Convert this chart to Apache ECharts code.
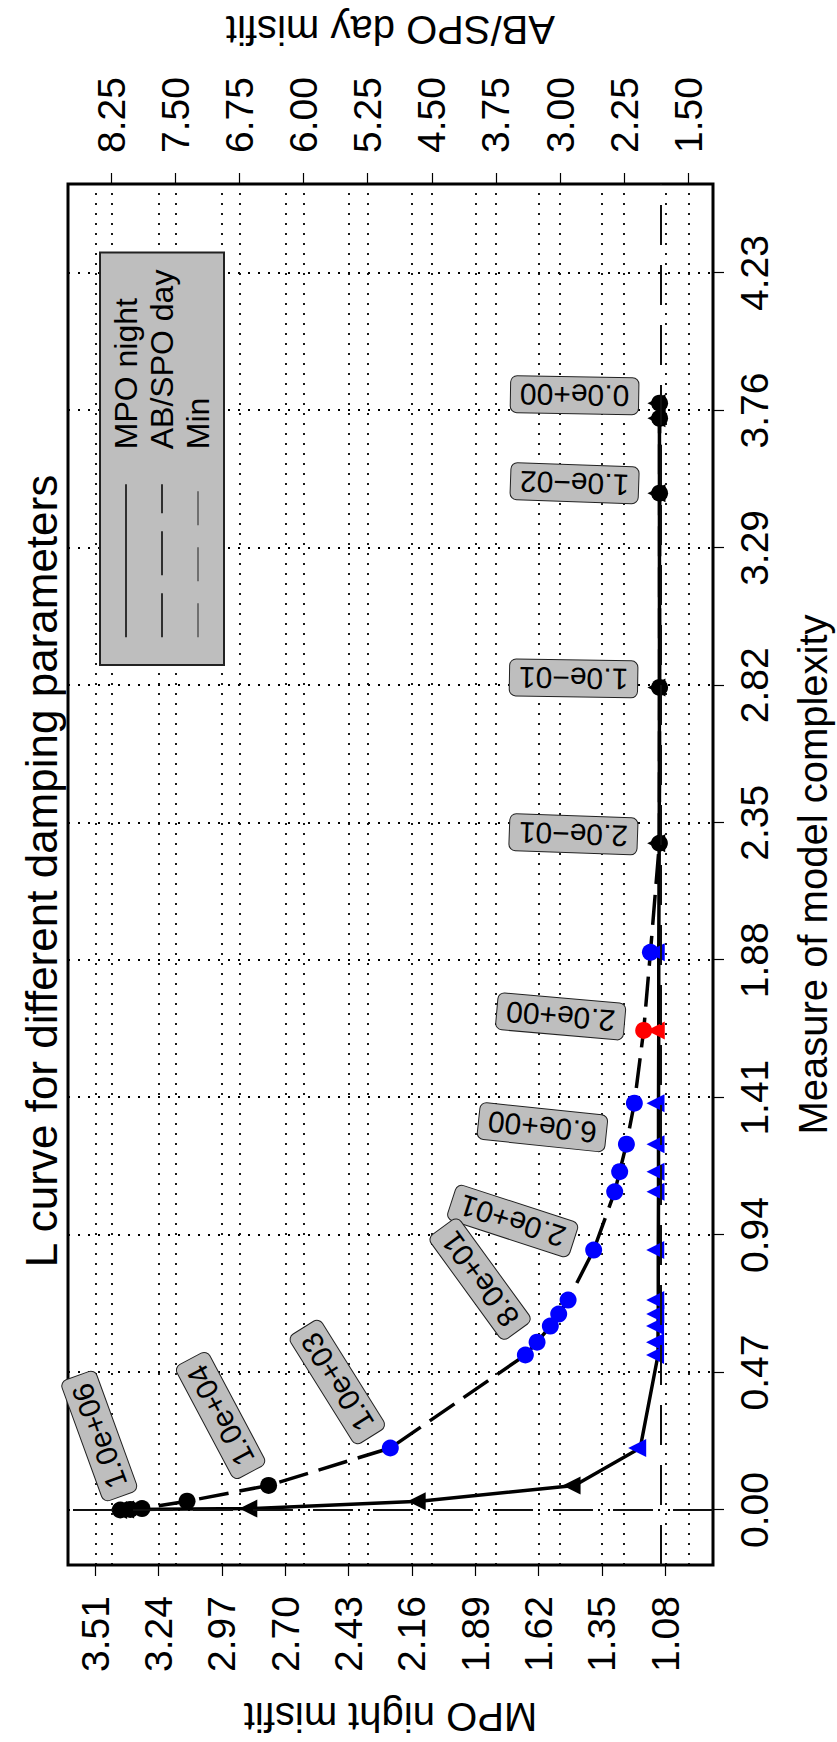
<!DOCTYPE html>
<html><head><meta charset="utf-8">
<script src="https://cdn.jsdelivr.net/npm/echarts@6/dist/echarts.min.js"></script>
<style>
html,body{margin:0;padding:0;background:#fff;overflow:hidden;width:837px;height:1742px;}
#wrap{position:absolute;left:0;top:0;width:1742px;height:837px;transform-origin:0 0;transform:translate(0,1742px) rotate(-90deg);}
#chart{width:1742px;height:837px;background:#fff;}
</style></head><body>
<div id="wrap"><div id="chart"></div></div>
<script>
// ---- data ----
const complexity = [3.785, 3.733, 3.477, 2.813, 2.280, 1.907, 1.640, 1.391, 1.251, 1.157, 1.088, 0.889, 0.718, 0.670, 0.629, 0.574, 0.530, 0.212, 0.084, 0.030, 0.005, 0.002, 0.000];
const mpoNight   = [1.105, 1.105, 1.105, 1.105, 1.106, 1.108, 1.108, 1.109, 1.109, 1.109, 1.109, 1.110, 1.110, 1.110, 1.111, 1.111, 1.111, 1.187, 1.467, 2.127, 2.845, 3.370, 3.400];
const abSpoDay   = [1.836, 1.836, 1.836, 1.836, 1.838, 1.943, 2.022, 2.131, 2.224, 2.303, 2.361, 2.607, 2.906, 3.016, 3.114, 3.269, 3.406, 4.986, 6.410, 7.364, 7.891, 8.028, 8.145];
const pointGroup = ['k','k','k','k','k','b','r','b','b','b','b','b','b','b','b','b','b','b','k','k','k','k','k'];
const dampingLabels = ['0.0e+00','','1.0e\u221202','1.0e\u221201','2.0e\u221201','','2.0e+00','','6.0e+00','','','2.0e+01','','','','8.0e+01','','1.0e+03','1.0e+04','','','','1.0e+06'];
const xTicks = [0.00, 0.47, 0.94, 1.41, 1.88, 2.35, 2.82, 3.29, 3.76, 4.23];
const mpoTicks = [1.08, 1.35, 1.62, 1.89, 2.16, 2.43, 2.70, 2.97, 3.24, 3.51];
const abTicks = [1.50, 2.25, 3.00, 3.75, 4.50, 5.25, 6.00, 6.75, 7.50, 8.25];
const minMisfit = 1.104;
const minComplexity = 0.0;

// ---- styling / placement ----
const FONT = '"Liberation Sans", Arial, Helvetica, sans-serif';
const groupColor = {k:'#000000', b:'#0000ff', r:'#ff0000'};
const CIRCLE = 17, TRI = 18;
// label centre offset from point (px, chart frame) and rotation (deg)
const labelPlacement = {
  '0.0e+00':[8,-85,89], '1.0e\u221202':[10,-85,88], '1.0e\u221201':[9,-86,89], '2.0e\u221201':[9,-86,88],
  '2.0e+00':[14,-83,85], '6.0e+00':[17,-84,84], '2.0e+01':[29,-81,72], '8.0e+01':[63,-57,36],
  '1.0e+03':[66,-53,32], '1.0e+04':[70,-48,28], '1.0e+06':[74,-21,20]
};

const mpoData = complexity.map((x,i)=>({value:[x, mpoNight[i]], itemStyle:{color:groupColor[pointGroup[i]]}}));
const abData = complexity.map((x,i)=>{
  const d = {value:[x, abSpoDay[i]], itemStyle:{color:groupColor[pointGroup[i]]}};
  const t = dampingLabels[i];
  if (t) {
    const p = labelPlacement[t];
    d.label = {show:true, formatter:t, position:[CIRCLE/2 + p[0], CIRCLE/2 + p[1]], rotate:p[2]};
  }
  return d;
});

const axisCommon = {
  type:'value',
  axisLine:{show:false, onZero:false},
  axisTick:{show:true, length:11, inside:false, lineStyle:{color:'#000', width:1.2}},
  splitLine:{show:true, lineStyle:{color:'#000', width:1.8, type:[2,8]}},
  nameLocation:'middle',
  nameMoveOverlap:false,
  nameTextStyle:{fontSize:40, color:'#000', fontFamily:FONT},
};
const fmt = v => Number(v).toFixed(2);

const chart = echarts.init(document.getElementById('chart'), null, {renderer:'svg', width:1742, height:837});
chart.setOption({
  animation:false,
  backgroundColor:'#fff',
  title:{text:'L curve for different damping parameters', left:'center', top:14,
    textStyle:{fontSize:44, fontWeight:'normal', color:'#000', fontFamily:FONT}},
  grid:{left:177, right:184, top:68, bottom:124, show:true, borderColor:'#000', borderWidth:3, backgroundColor:'transparent', outerBoundsMode:'none', containLabel:false},
  legend:{orient:'vertical', left:1077, top:100, backgroundColor:'#bebebe', borderColor:'#222', borderWidth:2,
    padding:[10,17,10,27], itemWidth:153, itemHeight:20, itemGap:4, selectedMode:false,
    itemStyle:{opacity:0},
    textStyle:{fontSize:32, color:'#000', fontFamily:FONT, padding:[0,0,0,30], lineHeight:32},
    data:[
      {name:'MPO night', lineStyle:{width:1.5, type:'solid', color:'#000'}},
      {name:'AB/SPO day', lineStyle:{width:1.5, type:[44,18], color:'#000'}},
      {name:'Min', lineStyle:{width:1.5, type:[34,22], color:'#555'}}
    ]},
  xAxis:Object.assign({}, axisCommon, {
    min:-0.1881, max:4.5344, position:'bottom',
    name:'Measure of model complexity', nameGap:80,
    axisTick:Object.assign({}, axisCommon.axisTick, {customValues:xTicks}),
    axisLabel:{customValues:xTicks, formatter:fmt, fontSize:39, color:'#000', fontFamily:FONT, margin:22}
  }),
  yAxis:[
    Object.assign({}, axisCommon, {
      min:0.8767, max:3.6264, position:'left',
      name:'MPO night misfit', nameGap:132,
      axisTick:Object.assign({}, axisCommon.axisTick, {customValues:mpoTicks}),
      axisLabel:{customValues:mpoTicks, formatter:fmt, fontSize:39, color:'#000', fontFamily:FONT, margin:31}
    }),
    Object.assign({}, axisCommon, {
      min:1.2110, max:8.7566, position:'right',
      name:'AB/SPO day misfit', nameGap:134,
      axisTick:Object.assign({}, axisCommon.axisTick, {customValues:abTicks}),
      axisLabel:{customValues:abTicks, formatter:fmt, fontSize:39, color:'#000', fontFamily:FONT, margin:31}
    })
  ],
  series:[
    {name:'Min', type:'line', yAxisIndex:0, data:[[minComplexity, minMisfit]], symbol:'none',
      lineStyle:{color:'#222', width:2, type:[40,20]}, z:1,
      markLine:{silent:true, symbol:'none', animation:false, label:{show:false},
        lineStyle:{color:'#111', width:2, type:[40,20]},
        data:[{yAxis:minMisfit}, {xAxis:minComplexity}]}},
    {name:'MPO night', type:'line', yAxisIndex:0, data:mpoData, symbol:'triangle', symbolSize:TRI, symbolOffset:[0,-3],
      lineStyle:{color:'#000', width:3.5, type:'solid'}, itemStyle:{color:'#000'}, z:3},
    {name:'AB/SPO day', type:'line', yAxisIndex:1, data:abData, symbol:'circle', symbolSize:CIRCLE,
      lineStyle:{color:'#000', width:3.5, type:[30,11]}, itemStyle:{color:'#000'}, z:4,
      label:{show:false, fontSize:30, color:'#000', fontFamily:FONT, backgroundColor:'#bebebe',
        borderColor:'#222', borderWidth:1, borderRadius:6, padding:[3,9], align:'center', verticalAlign:'middle'}}
  ]
});
</script>
</body></html>
